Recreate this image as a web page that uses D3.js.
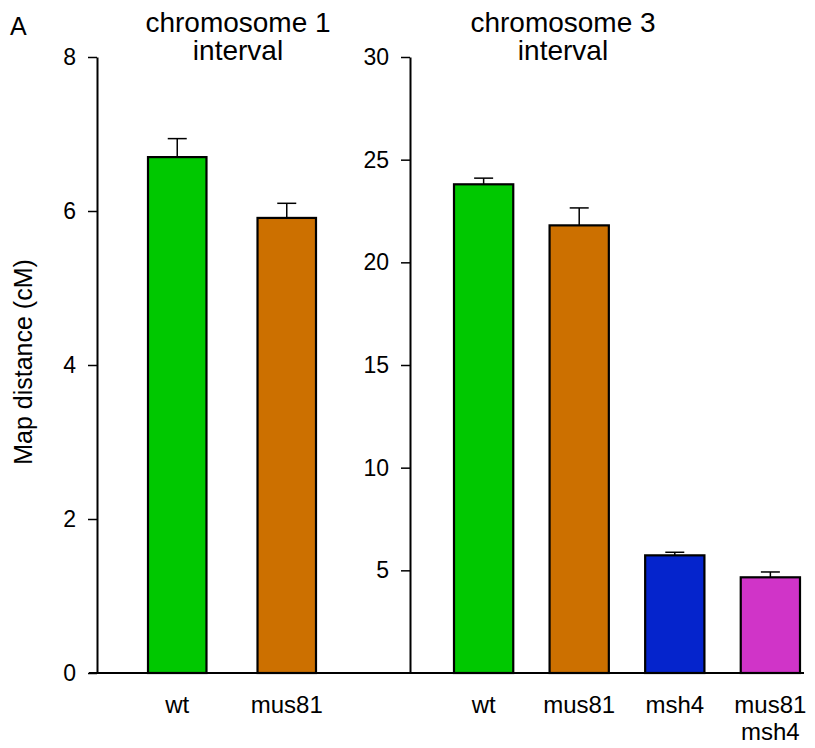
<!DOCTYPE html>
<html>
<head>
<meta charset="utf-8">
<script src="https://cdn.jsdelivr.net/npm/d3@7"></script>
<style>
    body { margin: 0; background: white; }
    svg text { font-family: 'Liberation Sans', Arial, sans-serif; fill: black; }
</style>
</head>
<body>
<div id="chart"></div>
<script>
// chromosome 1 interval
let chr1Genotypes = ['wt', 'mus81']
let chr1Values = [6.70, 5.91]
let chr1Errors = [0.24, 0.19]
let chr1Ticks = [0, 2, 4, 6, 8]

// chromosome 3 interval
let chr3Genotypes = ['wt', 'mus81', 'msh4', 'mus81 msh4']
let chr3Values = [23.8, 21.8, 5.73, 4.66]
let chr3Errors = [0.3, 0.85, 0.15, 0.26]
let chr3Ticks = [5, 10, 15, 20, 25, 30]

let genotypeColors = {
    'wt': '#00c800',
    'mus81': '#cc7000',
    'msh4': '#0524cc',
    'mus81 msh4': '#d034c8'
}

let width = 815
let height = 748
let plotTop = 57
let plotBottom = 673
let tickFont = 23

let svg = d3.select('#chart').append('svg')
    .attr('width', width)
    .attr('height', height)

function drawPanel(genotypes, values, errors, ticks, maxVal, axisX, bandRange, padding, title, titleX) {
    let x = d3.scaleBand()
        .domain(genotypes)
        .range(bandRange)
        .paddingInner(padding)
        .paddingOuter(0)
    let y = d3.scaleLinear()
        .domain([0, maxVal])
        .range([plotBottom, plotTop])

    let axis = svg.append('g')
        .attr('transform', `translate(${axisX},0)`)
        .call(d3.axisLeft(y)
            .tickValues(ticks)
            .tickSize(9)
            .tickSizeOuter(0)
            .tickPadding(12))
    axis.select('.domain').attr('stroke-width', 2)
    axis.selectAll('.tick line').attr('stroke-width', 1.5)
    axis.selectAll('.tick text')
        .style('font-size', tickFont + 'px')
        .style('font-family', "'Liberation Sans', Arial, sans-serif")

    let data = genotypes.map((g, i) => ({ g: g, v: values[i], e: errors[i] }))

    // error bars (drawn first, bar covers the lower half)
    let err = svg.append('g')
    err.selectAll('line.stem')
        .data(data)
        .join('line')
        .attr('class', 'stem')
        .attr('x1', d => x(d.g) + x.bandwidth() / 2)
        .attr('x2', d => x(d.g) + x.bandwidth() / 2)
        .attr('y1', d => y(d.v))
        .attr('y2', d => y(d.v + d.e))
        .attr('stroke', 'black')
        .attr('stroke-width', 1.5)
    err.selectAll('line.cap')
        .data(data)
        .join('line')
        .attr('class', 'cap')
        .attr('x1', d => x(d.g) + x.bandwidth() / 2 - 9.5)
        .attr('x2', d => x(d.g) + x.bandwidth() / 2 + 9.5)
        .attr('y1', d => y(d.v + d.e))
        .attr('y2', d => y(d.v + d.e))
        .attr('stroke', 'black')
        .attr('stroke-width', 1.5)

    svg.append('g').selectAll('rect')
        .data(data)
        .join('rect')
        .attr('x', d => x(d.g))
        .attr('y', d => y(d.v))
        .attr('width', x.bandwidth())
        .attr('height', d => y(0) - y(d.v))
        .attr('fill', d => genotypeColors[d.g])
        .attr('stroke', 'black')
        .attr('stroke-width', 2.2)

    // genotype labels
    let labels = svg.append('g').selectAll('text')
        .data(genotypes)
        .join('text')
        .attr('x', d => x(d) + x.bandwidth() / 2)
        .attr('y', 713)
        .attr('text-anchor', 'middle')
        .style('font-size', '24px')
    labels.selectAll('tspan')
        .data(d => d.split(' ').map(s => ({ s: s, cx: x(d) + x.bandwidth() / 2 })))
        .join('tspan')
        .attr('x', d => d.cx)
        .attr('dy', (d, i) => i == 0 ? 0 : 27)
        .text(d => d.s)

    // title
    let t = svg.append('text')
        .attr('text-anchor', 'middle')
        .style('font-size', '28px')
    t.append('tspan').attr('x', titleX).attr('y', 32).text(title[0])
    t.append('tspan').attr('x', titleX).attr('y', 60).text(title[1])
}

drawPanel(chr1Genotypes, chr1Values, chr1Errors, chr1Ticks, 8, 97, [148, 316], 0.466,
    ['chromosome 1', 'interval'], 238)
drawPanel(chr3Genotypes, chr3Values, chr3Errors, chr3Ticks, 30, 410, [454, 800], 0.38,
    ['chromosome 3', 'interval'], 563)

// shared baseline
svg.append('line')
    .attr('x1', 89)
    .attr('x2', 804)
    .attr('y1', plotBottom)
    .attr('y2', plotBottom)
    .attr('stroke', 'black')
    .attr('stroke-width', 2)

// y axis title
svg.append('text')
    .attr('transform', 'translate(32,362) rotate(-90)')
    .attr('text-anchor', 'middle')
    .style('font-size', '25px')
    .text('Map distance (cM)')

// panel letter
svg.append('text')
    .attr('x', 10)
    .attr('y', 35)
    .style('font-size', '25px')
    .text('A')
</script>
</body>
</html>
